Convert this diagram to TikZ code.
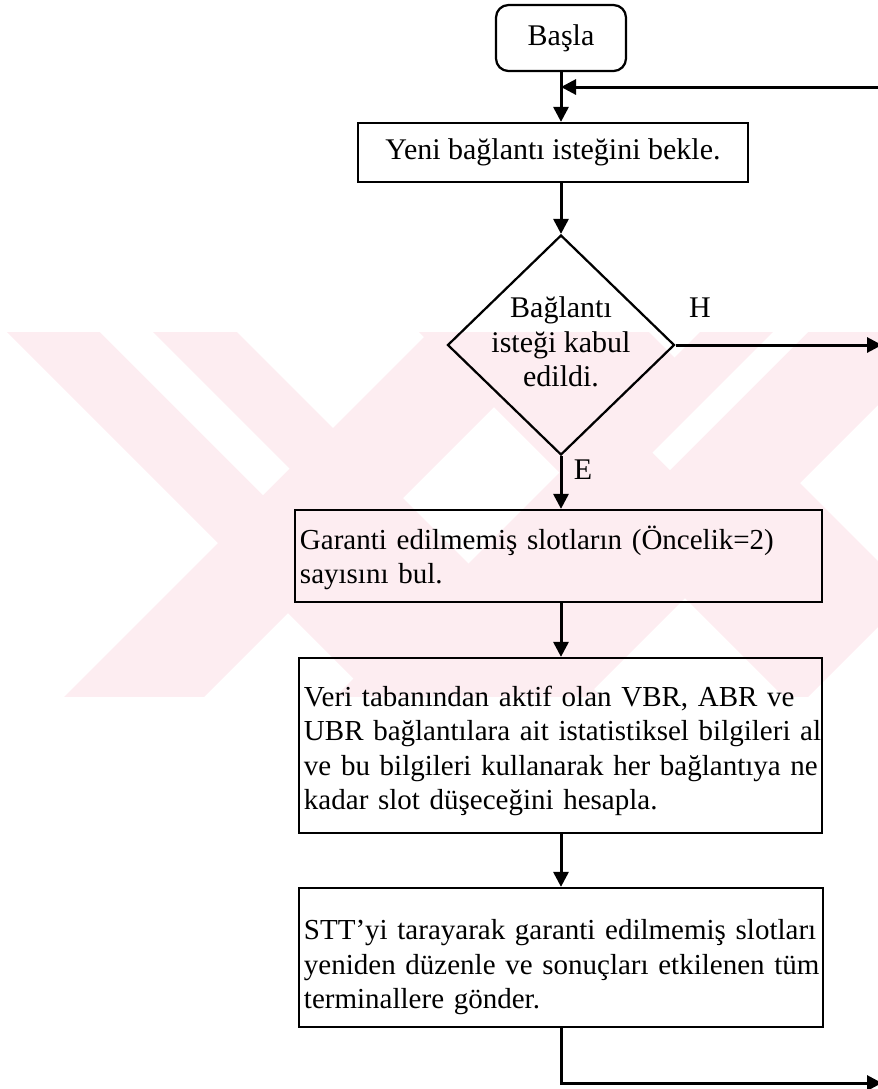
\documentclass[tikz,border=0pt]{standalone}
\usepackage{fontspec}
\setmainfont{Liberation Serif}
\usetikzlibrary{shapes.geometric,arrows.meta}
\definecolor{wmpink}{RGB}{253,237,241}
% raises the first line of a box so the text block sits a little lower
\newcommand{\firstline}[1]{\rule{0pt}{#1}}
\begin{document}
\begin{tikzpicture}[x=0.4pt,y=-0.4pt,
  font=\fontsize{12}{13.8}\selectfont,
  every node/.style={inner sep=0pt},
  frame/.style={draw, line width=0.9pt},
  flowbox/.style={frame, align=left, inner xsep=2pt,
    font=\fontsize{11.6}{13.8}\selectfont},
  flowarrow/.style={line width=1.2pt, -{Triangle[length=6pt,width=6pt]}},
  ]
\useasboundingbox (0,0) rectangle (878,1089);

% background mark: crossed diagonal bands
\begin{scope}
  \clip (0,332) rectangle (878,696);
  \fill[wmpink] (-25,300) -- (205,300) -- (635,730) -- (405,730) -- cycle;
  \fill[wmpink] (461,300) -- (601,300) -- (171,730) -- (31,730) -- cycle;
  \fill[wmpink] (732,300) -- (983,300) -- (553,730) -- (302,730) -- cycle;
  \fill[wmpink] (387,300) -- (617,300) -- (911,594) -- (796,709) -- cycle;
  \fill[white] (68,300) -- (121,300) -- (289.5,468.5) -- (263,495) -- cycle;
  \fill[white] (805,300) -- (840,300) -- (670,470) -- (652.5,452.5) -- cycle;
\end{scope}

% steps
\node[frame, rounded corners=5pt, minimum width=52pt, minimum height=26.4pt]
  (start) at (561,38) {Başla};
\node[frame, minimum width=156pt, minimum height=23.6pt]
  (wait) at (553,152.5) {Yeni bağlantı isteğini bekle.};
\node[frame, diamond, minimum width=90.8pt, minimum height=88pt]
  (dec) at (561,345) {};
\node[align=center] (dectext) at (561,342) {Bağlantı\\isteği kabul\\edildi.};
\node[flowbox, text width=206.8pt, minimum height=36.8pt]
  (count) at (558.5,556)
  {\firstline{11pt}\mbox{Garanti edilmemiş slotların (Öncelik=2)}\\\mbox{sayısını bul.}};
\node[flowbox, text width=205.2pt, minimum height=70pt]
  (stats) at (560.5,745.5)
  {\firstline{12.5pt}\mbox{Veri tabanından aktif olan VBR, ABR ve}\\
   \mbox{UBR bağlantılara ait istatistiksel bilgileri al}\\
   \mbox{ve bu bilgileri kullanarak her bağlantıya ne}\\
   \mbox{kadar slot düşeceğini hesapla.}};
\node[flowbox, text width=205.6pt, minimum height=55.6pt]
  (stt) at (561,957.5)
  {\firstline{16pt}\mbox{STT’yi tarayarak garanti edilmemiş slotları}\\
   \mbox{yeniden düzenle ve sonuçları etkilenen tüm}\\
   \mbox{terminallere gönder.}};

% branch labels
\node (hlbl) at (700,308) {H};
\node (elbl) at (583,470) {E};

% loop ends at the right edge
\coordinate (loopin) at (882,87);
\coordinate (noexit) at (882,345);
\coordinate (loopout) at (882,1083);

% connectors
\draw[flowarrow] (start.south) -- (start.south |- wait.north);
\draw[flowarrow] (loopin) -- (start.south |- loopin);
\draw[flowarrow] (wait.south -| dec.north) -- (dec.north);
\draw[flowarrow] (dec.east) -- (noexit);
\draw[flowarrow] (dec.south) -- (dec.south |- count.north);
\draw[flowarrow] (dec.south |- count.south) -- (dec.south |- stats.north);
\draw[flowarrow] (dec.south |- stats.south) -- (dec.south |- stt.north);
\draw[flowarrow] (dec.south |- stt.south) |- (loopout);
\end{tikzpicture}
\end{document}
